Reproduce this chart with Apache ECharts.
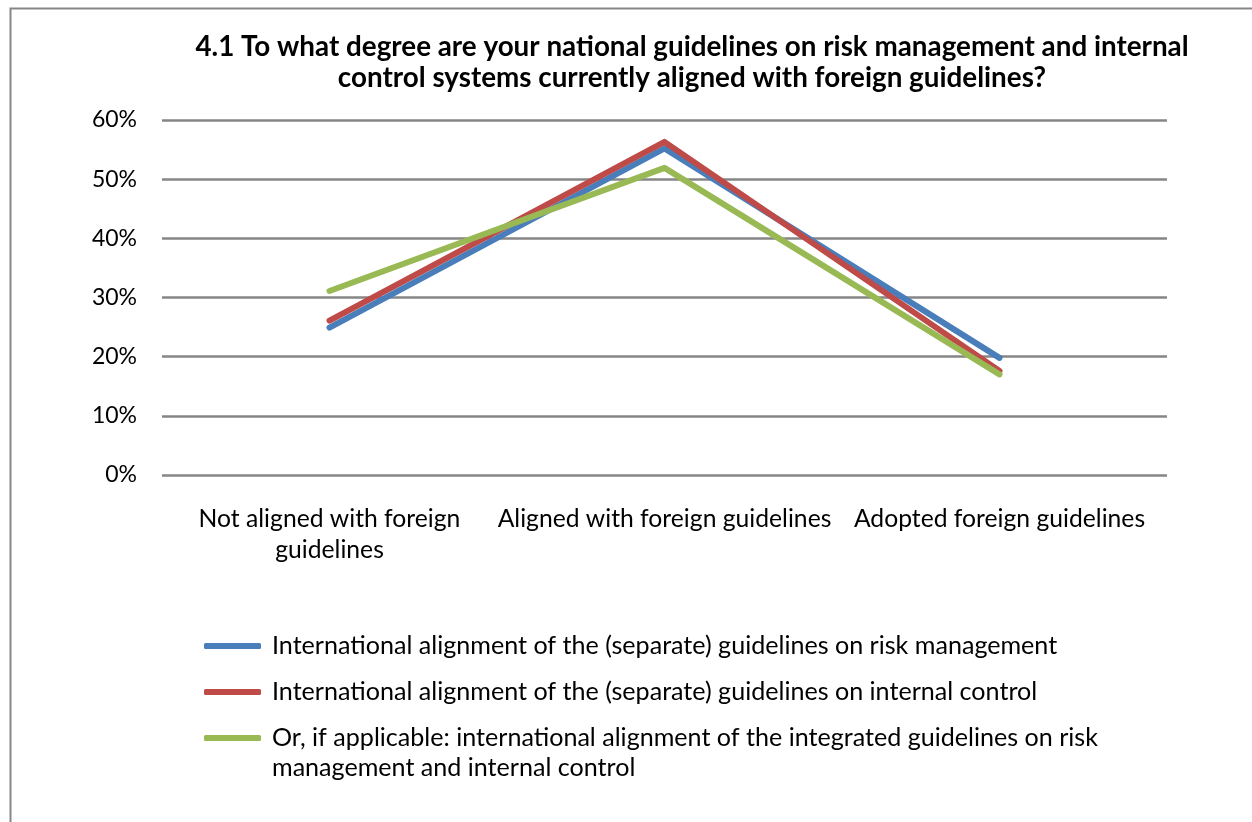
<!DOCTYPE html>
<html>
<head>
<meta charset="utf-8">
<script src="https://cdn.jsdelivr.net/npm/echarts@6/dist/echarts.min.js"></script>
<style>html,body{margin:0;padding:0;background:#fff;}#c{width:1252px;height:822px;}</style>
</head>
<body>
<div id="c"></div>
<script>
const categories = ['Not aligned with foreign\nguidelines', 'Aligned with foreign guidelines', 'Adopted foreign guidelines'];
const seriesNames = [
  'International alignment of the (separate) guidelines on risk management',
  'International alignment of the (separate) guidelines on internal control',
  'Or, if applicable: international alignment of the integrated guidelines on risk management and internal control'
];
const riskMgmt = [24.9, 55.2, 19.8];
const internalControl = [26.1, 56.3, 17.6];
const integrated = [31.1, 51.9, 17.0];
const yTicks = { min: 0, max: 60, interval: 10 };
const titleText = '4.1 To what degree are your national guidelines on risk management and internal\ncontrol systems currently aligned with foreign guidelines?';

const FONT = 'Lato';
const colors = ['#4A7EBB', '#BE4B48', '#98B954'];

const chart = echarts.init(document.getElementById('c'));
const mkSeries = (name, data, color) => ({
  name, type: 'line', data, symbol: 'none', smooth: false,
  lineStyle: { color, width: 6, cap: 'round', join: 'round' },
  itemStyle: { color },
  emphasis: { disabled: true }
});
const richStyles = {
  t: { fontFamily: FONT, fontSize: 25.1, color: '#000', lineHeight: 30, padding: [0, 0, 0, 6] },
  z: { fontFamily: FONT, fontSize: 25.1, lineHeight: 30 }
};
const legendBase = {
  orient: 'vertical', left: 204, padding: 0, icon: 'roundRect',
  itemWidth: 57, itemHeight: 6, itemGap: 16,
  textStyle: { fontFamily: FONT, fontSize: 25.1, color: '#000', lineHeight: 30, rich: richStyles },
  formatter: n => '{t|' + n + '}',
  selectedMode: false
};
chart.setOption({
  animation: false,
  textStyle: { fontFamily: FONT },
  title: {
    text: titleText, left: 687, top: 27, textAlign: 'center',
    textStyle: { fontFamily: FONT, fontSize: 27.8, fontWeight: 'bold', color: '#000', lineHeight: 31 }
  },
  graphic: [{
    type: 'rect', left: 8, top: 6, silent: true,
    shape: { width: 1270, height: 840 },
    style: { fill: 'none', stroke: '#878787', lineWidth: 2 }
  }],
  grid: { left: 162, right: 85, top: 120, bottom: 347, containLabel: false },
  xAxis: {
    type: 'category', data: categories, boundaryGap: true,
    axisLine: { show: false }, axisTick: { show: false },
    axisLabel: { fontFamily: FONT, fontSize: 24.7, color: '#000', margin: 29, lineHeight: 31, interval: 0 }
  },
  yAxis: {
    type: 'value', min: yTicks.min, max: yTicks.max, interval: yTicks.interval,
    axisLine: { show: false }, axisTick: { show: false },
    axisLabel: { fontFamily: FONT, fontSize: 23, color: '#000', margin: 25, formatter: '{value}%' },
    splitLine: { lineStyle: { color: '#868686', width: 2.5 } }
  },
  legend: [
    Object.assign({}, legendBase, { top: 631, data: [seriesNames[0], seriesNames[1]] }),
    Object.assign({}, legendBase, {
      top: 693, data: [seriesNames[2]],
      formatter: n => '{z| }\n' + n.replace(/^(.*? on risk) (management.*)$/, '{t|$1}\n{t|$2}')
    })
  ],
  series: [
    mkSeries(seriesNames[0], riskMgmt, colors[0]),
    mkSeries(seriesNames[1], internalControl, colors[1]),
    mkSeries(seriesNames[2], integrated, colors[2])
  ]
});
</script>
</body>
</html>
